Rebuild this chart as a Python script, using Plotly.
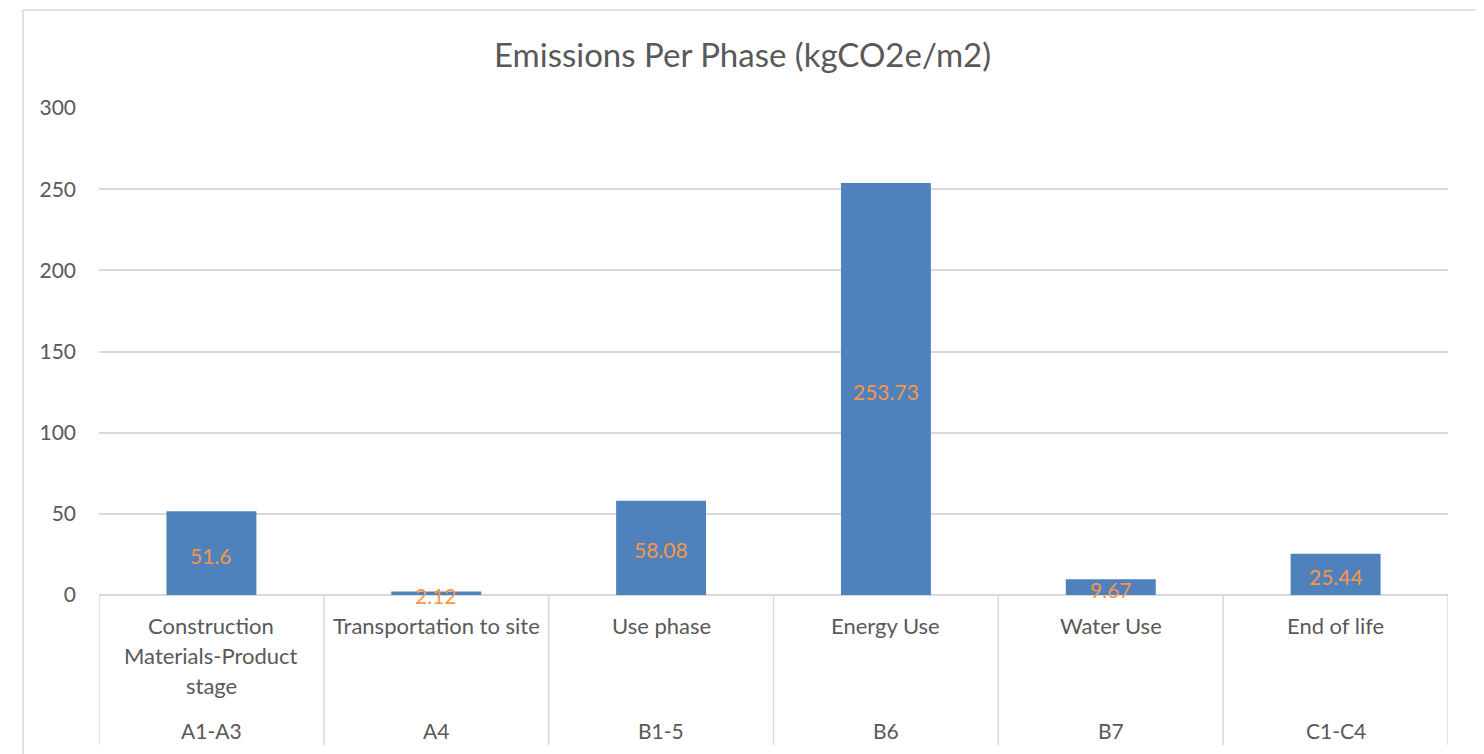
import plotly.graph_objects as go

codes = ["A1-A3", "A4", "B1-5", "B6", "B7", "C1-C4"]
phases = [["Construction", "Materials-Product", "stage"], ["Transportation to site"],
          ["Use phase"], ["Energy Use"], ["Water Use"], ["End of life"]]
values = [51.6, 2.12, 58.08, 253.73, 9.67, 25.44]
labels = ["51.6", "2.12", "58.08", "253.73", "9.67", "25.44"]

OFF = 8  # default page body margin
W, H = 1484 - OFF, 754 - OFF
L, R, T, B = 99 - OFF, 1448 - OFF, 108 - OFF, 595 - OFF
pw, ph = R - L, B - T

def px_x(x):
    return (x - OFF - L) / pw

def px_y(y):
    return (B - (y - OFF)) / ph

FONT = "Lato, Carlito, 'Open Sans', sans-serif"
GRAY = "#595959"
LINE = "#D9D9D9"

xs = list(range(len(values)))

fig = go.Figure()
fig.add_trace(go.Bar(x=xs, y=values, width=0.4, marker=dict(color="#4F81BD", line=dict(width=0)),
                     hoverinfo="skip"))

shapes = []
shapes.append(dict(type="rect", xref="paper", yref="paper",
                   x0=px_x(23), x1=px_x(1477), y0=px_y(770), y1=px_y(10),
                   line=dict(color=LINE, width=1.5), layer="below"))
for i in range(len(values) + 1):
    shapes.append(dict(type="line", xref="x", yref="paper", x0=i - 0.5, x1=i - 0.5,
                       y0=px_y(595), y1=px_y(745), line=dict(color=LINE, width=1.5)))

annotations = []
annotations.append(dict(text="Emissions Per Phase (kgCO2e/m2)", xref="paper", yref="paper",
                        x=px_x(742), y=px_y(54), showarrow=False, xanchor="center", yanchor="middle",
                        font=dict(size=33, color=GRAY, family=FONT)))
for i, (v, lab) in enumerate(zip(values, labels)):
    annotations.append(dict(text=lab, xref="x", yref="y", x=i, y=v / 2, yshift=-2,
                            showarrow=False, xanchor="center", yanchor="middle",
                            font=dict(size=21, color="#F79646", family=FONT)))
for i, (lines, code) in enumerate(zip(phases, codes)):
    for j, ln in enumerate(lines):
        annotations.append(dict(text=ln, xref="x", yref="paper", x=i, y=px_y(625 + 30 * j),
                                showarrow=False, xanchor="center", yanchor="middle",
                                font=dict(size=22, color=GRAY, family=FONT)))
    annotations.append(dict(text=code, xref="x", yref="paper", x=i, y=px_y(730),
                            showarrow=False, xanchor="center", yanchor="middle",
                            font=dict(size=21, color=GRAY, family=FONT)))

fig.update_layout(
    width=W, height=H,
    margin=dict(l=L, r=W - R, t=T, b=H - B, pad=0),
    paper_bgcolor="white", plot_bgcolor="white",
    showlegend=False,
    shapes=shapes, annotations=annotations,
    xaxis=dict(range=[-0.5, len(values) - 0.5], showticklabels=False, showgrid=False,
               zeroline=False, showline=False, ticks="", fixedrange=True),
    yaxis=dict(range=[0, 300], dtick=50, showgrid=True, gridcolor=LINE, gridwidth=1.5,
               zeroline=True, zerolinecolor=LINE, zerolinewidth=1.5, showline=False,
               ticks="", ticklabelstandoff=22,
               tickfont=dict(size=21, color=GRAY, family=FONT), fixedrange=True),
    bargap=0.6,
)

fig.write_html("out.html")
